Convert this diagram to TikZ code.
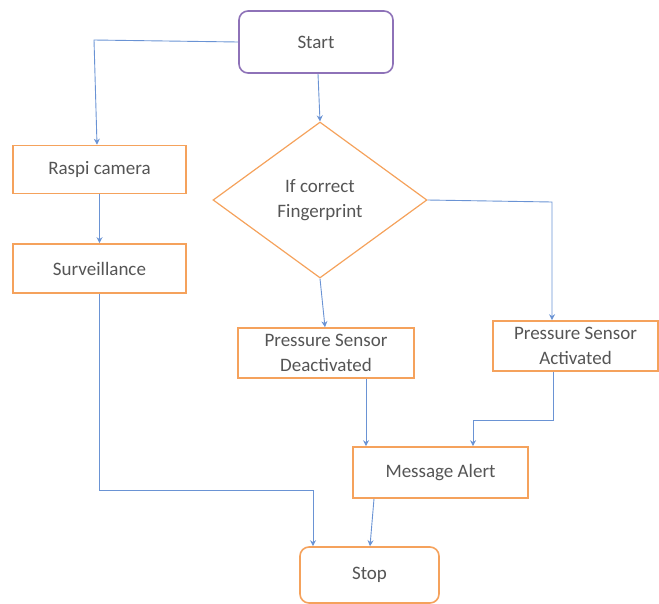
\documentclass[tikz,border=0pt]{standalone}
\usepackage{fontspec}
\setmainfont{Carlito}
\usetikzlibrary{arrows.meta,shapes.geometric}
\definecolor{ln}{HTML}{6A93D4}
\definecolor{ob}{HTML}{F5A25C}
\definecolor{pb}{HTML}{8E72B8}
\definecolor{tx}{HTML}{555555}
\begin{document}
\begin{tikzpicture}[x=1pt,y=-1pt,
  box/.style={draw=ob,line width=1.6pt,fill=white,minimum width=173pt,minimum height=48pt,inner sep=0pt,align=center,text=tx,font=\fontsize{19}{25}\selectfont},
  conn/.style={draw=ln,line width=0.9pt,-{Stealth[length=6pt,width=6pt]}}]
\useasboundingbox (0,0) rectangle (659,603);
\node[box,draw=pb,rounded corners=9pt,minimum width=154pt,minimum height=62pt] (start) at (316,42) {Start};
\node[box] (raspi) at (99.5,169.5) {Raspi camera};
\node[box,minimum height=49pt] (surv) at (99.5,268.5) {Surveillance};
\node[diamond,aspect=1.37,draw=ob,line width=1.2pt,minimum width=214pt,minimum height=156pt,inner sep=0pt,align=center,text=tx,font=\fontsize{19}{25}\selectfont] (dec) at (320,200) {If correct\\Fingerprint};
\node[box,minimum width=176pt,minimum height=50pt] (psd) at (326,353) {Pressure Sensor\\Deactivated};
\node[box,minimum width=165pt,minimum height=50pt] (psa) at (575.5,346) {Pressure Sensor\\Activated};
\node[box,minimum width=175pt,minimum height=51pt] (ma) at (440.5,472.5) {Message Alert};
\node[box,rounded corners=9pt,minimum width=139pt,minimum height=56pt] (stop) at (369.5,575) {Stop};
\draw[conn] (start.west) -- (94,40) -- (raspi.north -| 97,0);
\draw[conn] (start.south -| 318,0) -- (dec.north);
\draw[conn] (raspi) -- (surv);
\draw[conn] (surv.south) -- (99.5,490) -- (313,490) -- (stop.north -| 313,0);
\draw[conn] (dec.south) -- (psd.north -| 325,0);
\draw[conn] (dec.east) -- (552,202) -- (psa.north -| 552,0);
\draw[conn] (psd.south -| 366,0) -- (ma.north -| 366,0);
\draw[conn] (psa.south -| 553,0) -- (553,420) -- (473,420) -- (ma.north -| 473,0);
\draw[conn] (ma.south -| 374,0) -- (stop.north -| 370,0);
\end{tikzpicture}
\end{document}
